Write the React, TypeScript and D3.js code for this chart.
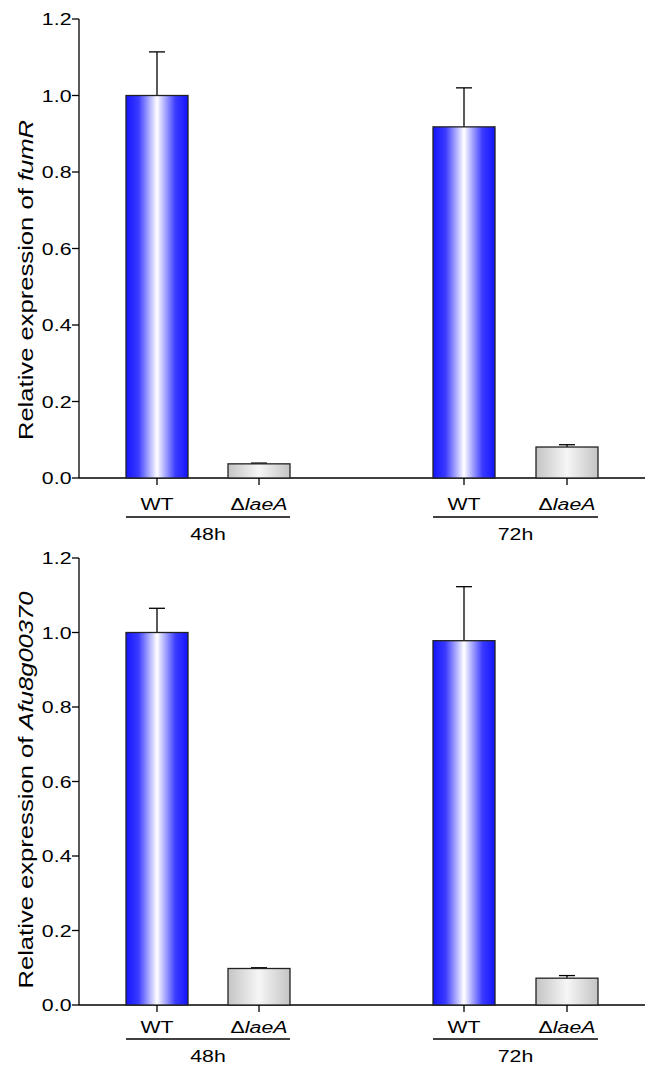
import React from "react";
import * as d3 from "d3";

const groups = ["48h", "72h"];
const fumRMeans = [1.0, 0.037, 0.918, 0.081];
const fumRErr = [0.114, 0.002, 0.102, 0.006];
const afuMeans = [1.0, 0.098, 0.978, 0.072];
const afuErr = [0.065, 0.002, 0.145, 0.007];
const yTicks = [0, 0.2, 0.4, 0.6, 0.8, 1.0, 1.2];

const W = 651;
const H = 1068;
const font = "Liberation Sans, Arial, sans-serif";
const FS = 17.2;
const SX = 1.24;

type PanelProps = {
  top: number;
  bottom: number;
  means: number[];
  errs: number[];
  gene: string;
  idx: number;
  labDy: number;
  lineDy: number;
  grpDy: number;
  yLabCenter: number;
};

const xPos = [157, 259, 464, 567];
const barW = 62;

function Panel({ top, bottom, means, errs, gene, idx, labDy, lineDy, grpDy, yLabCenter }: PanelProps) {
  const y = d3.scaleLinear().domain([0, 1.2]).range([bottom, top]);
  const axisX = 79;
  return (
    <g>
      <line x1={axisX} x2={axisX} y1={y(1.2)} y2={y(0)} stroke="#000" strokeWidth={1.3} />
      {yTicks.map((t) => (
        <g key={t}>
          <line x1={axisX - 7} x2={axisX} y1={y(t)} y2={y(t)} stroke="#000" strokeWidth={1.3} />
          <text
            transform={`translate(${axisX - 7.5},${y(t) + 6}) scale(${SX},1)`}
            textAnchor="end"
            fontFamily={font}
            fontSize={FS}
          >
            {t.toFixed(1)}
          </text>
        </g>
      ))}
      <line x1={axisX} x2={645} y1={y(0)} y2={y(0)} stroke="#000" strokeWidth={1.3} />
      {means.map((m, i) => {
        const cx = xPos[i];
        const isWT = i % 2 === 0;
        const yt = y(m);
        const ye = y(m + errs[i]);
        return (
          <g key={i}>
            <line x1={cx} x2={cx} y1={ye} y2={yt} stroke="#000" strokeWidth={1.3} />
            <line x1={cx - 8} x2={cx + 8} y1={ye} y2={ye} stroke="#000" strokeWidth={1.3} />
            <rect
              x={cx - barW / 2}
              y={yt}
              width={barW}
              height={y(0) - yt}
              fill={isWT ? `url(#blue${idx})` : `url(#grey${idx})`}
              stroke="#222"
              strokeWidth={1.3}
            />
            <line x1={cx} x2={cx} y1={y(0)} y2={y(0) + 7} stroke="#000" strokeWidth={1.3} />
            <text
              transform={`translate(${cx},${y(0) + labDy}) scale(${SX},1)`}
              textAnchor="middle"
              fontFamily={font}
              fontSize={FS}
            >
              {isWT ? (
                "WT"
              ) : (
                <>
                  <tspan>Δ</tspan>
                  <tspan fontStyle="italic">laeA</tspan>
                </>
              )}
            </text>
          </g>
        );
      })}
      {groups.map((g, gi) => {
        const x1 = xPos[gi * 2] - barW / 2;
        const x2 = xPos[gi * 2 + 1] + barW / 2;
        return (
          <g key={g}>
            <line x1={x1} x2={x2} y1={y(0) + lineDy} y2={y(0) + lineDy} stroke="#000" strokeWidth={1.6} />
            <text
              transform={`translate(${(x1 + x2) / 2},${y(0) + grpDy}) scale(${SX},1)`}
              textAnchor="middle"
              fontFamily={font}
              fontSize={FS}
            >
              {g}
            </text>
          </g>
        );
      })}
      <text
        transform={`translate(33,${yLabCenter}) rotate(-90) scale(1.25,1)`}
        textAnchor="middle"
        fontFamily={font}
        fontSize={20.5}
      >
        Relative expression of <tspan fontStyle="italic">{gene}</tspan>
      </text>
    </g>
  );
}

export default function App() {
  return (
    <svg width={W} height={H} style={{ position: "absolute", left: 0, top: 0, background: "#fff" }}>
      <defs>
        {[0, 1].map((i) => (
          <React.Fragment key={i}>
            <linearGradient id={`blue${i}`} x1="0" x2="1" y1="0" y2="0">
              <stop offset="0" stopColor="#1414ff" />
              <stop offset="0.2" stopColor="#3a3aff" />
              <stop offset="0.5" stopColor="#ffffff" />
              <stop offset="0.8" stopColor="#3a3aff" />
              <stop offset="1" stopColor="#1414ff" />
            </linearGradient>
            <linearGradient id={`grey${i}`} x1="0" x2="1" y1="0" y2="0">
              <stop offset="0" stopColor="#c4c4c4" />
              <stop offset="0.5" stopColor="#f6f6f6" />
              <stop offset="1" stopColor="#c4c4c4" />
            </linearGradient>
          </React.Fragment>
        ))}
      </defs>
      <rect width={W} height={H} fill="#fff" />
      <Panel top={19} bottom={478} means={fumRMeans} errs={fumRErr} gene="fumR" idx={0}
        labDy={32} lineDy={39} grpDy={62} yLabCenter={280} />
      <Panel top={558} bottom={1005} means={afuMeans} errs={afuErr} gene="Afu8g00370" idx={1}
        labDy={28} lineDy={34} grpDy={57} yLabCenter={790} />
    </svg>
  );
}
